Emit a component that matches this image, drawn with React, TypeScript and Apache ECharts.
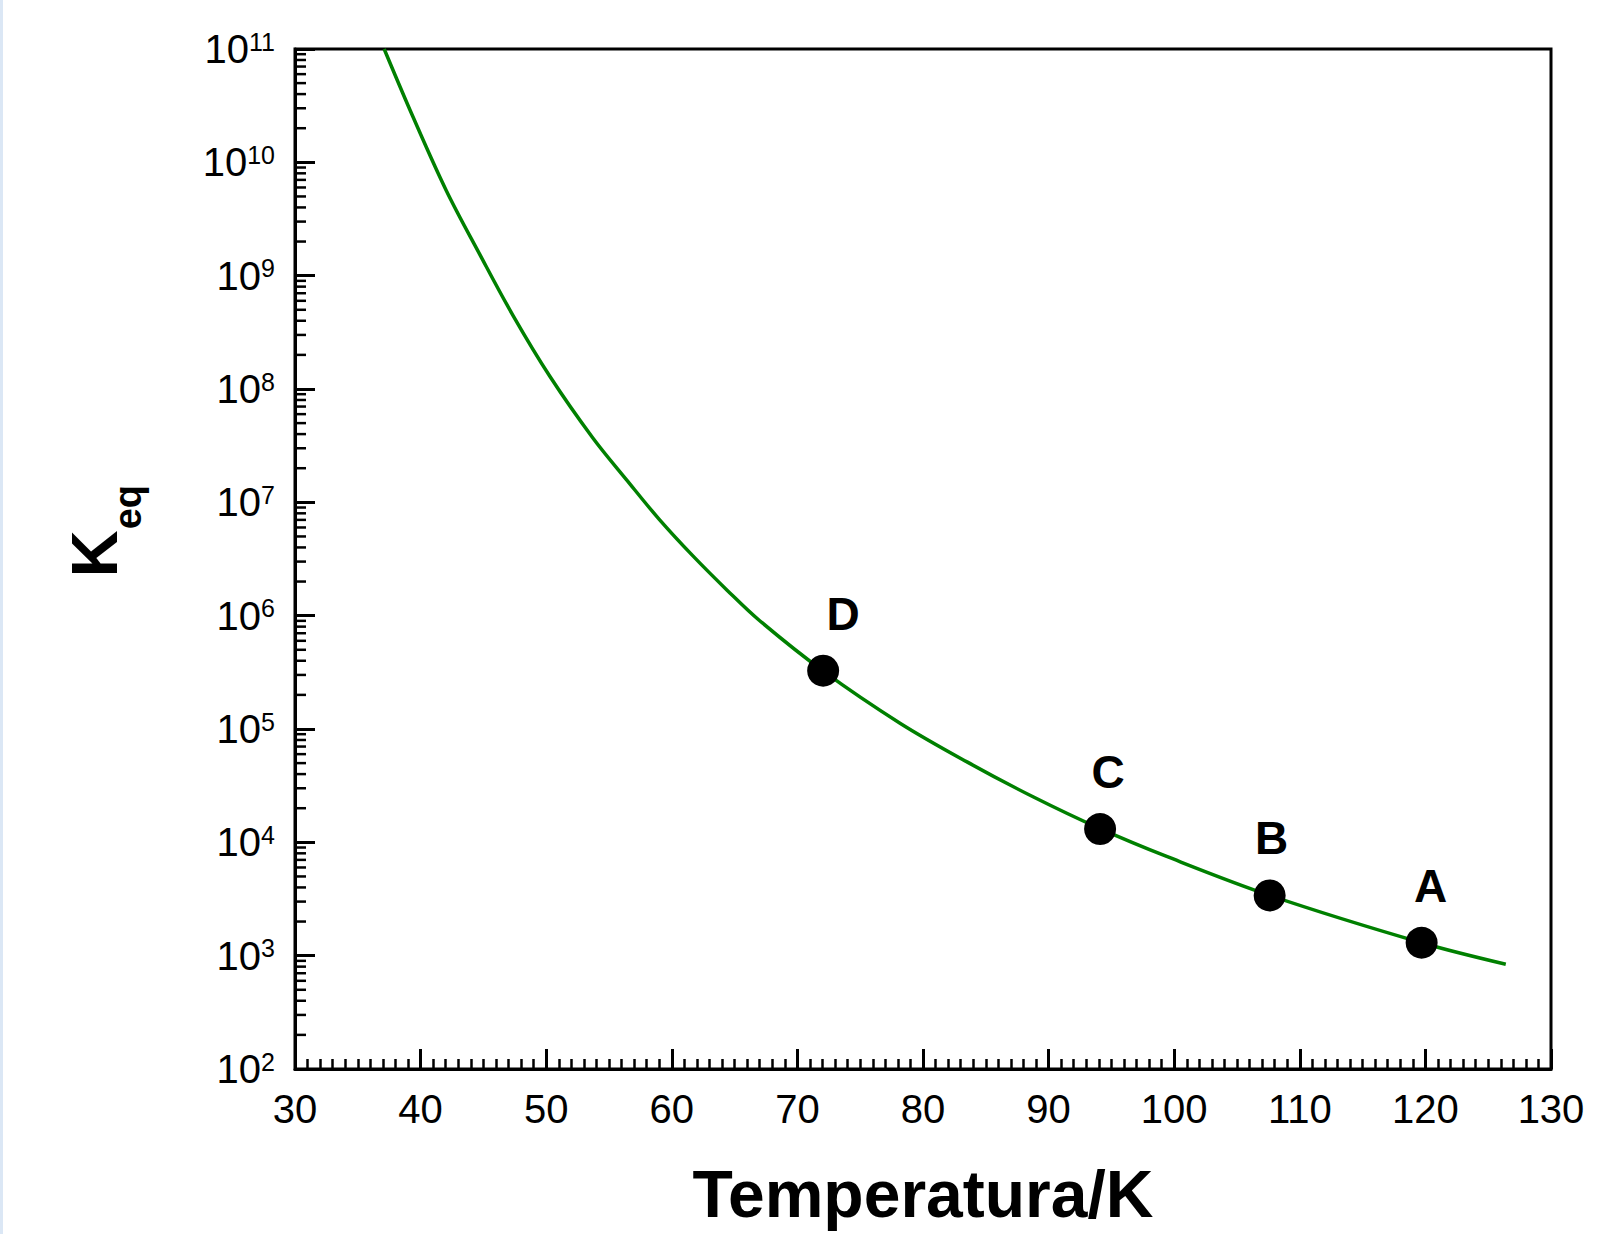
import React, { useEffect, useRef } from "react";
import * as echarts from "echarts";

// Curve: temperature (K) and Keq
const CURVE_T = [37.1, 39.4, 42.05, 44.7, 47.35, 50.3, 53.7, 56.4, 59.0, 61.7, 64.4, 67.0, 72.06, 78.2, 83.5, 88.8, 94.1, 99.4, 107.65, 119.7, 126.4];
const CURVE_K = [1.0e11, 2.51e10, 5.62e9, 1.55e9, 4.47e8, 1.29e8, 3.72e7, 1.58e7, 7.08e6, 3.35e6, 1.68e6, 9.02e5, 3.24e5, 1.12e5, 5.13e4, 2.51e4, 1.32e4, 7.5e3, 3.39e3, 1.3e3, 8.4e2];

// Labelled points
const POINT_NAMES = ["D", "C", "B", "A"];
const POINT_T = [72.05, 94.1, 107.6, 119.7];
const POINT_K = [3.27e5, 1.31e4, 3.4e3, 1.3e3];

// Axes
const X_MIN = 30;
const X_MAX = 130;
const X_INTERVAL = 10;
const Y_MIN = 1e2;
const Y_MAX = 1e11;
const Y_DECADES = [2, 3, 4, 5, 6, 7, 8, 9, 10];
const Y_MANTISSAS = [2, 3, 4, 5, 6, 7, 8, 9];

// label horizontal nudges (style)
const LABEL_DX = [20, 8, 2, 9];

const FONT = '"Liberation Sans", Arial, sans-serif';

export default function App() {
  const ref = useRef<HTMLDivElement>(null);

  useEffect(() => {
    if (!ref.current) return;
    const chart = echarts.init(ref.current, undefined, { renderer: "svg" });

    const curveData = CURVE_T.map((t, i) => [t, CURVE_K[i]]);
    const pointData = POINT_T.map((t, i) => ({
      value: [t, POINT_K[i]],
      name: POINT_NAMES[i],
      label: { offset: [LABEL_DX[i], 0] },
    }));
    const minorData: number[][] = [];
    Y_DECADES.forEach((d) => {
      Y_MANTISSAS.forEach((m) => {
        minorData.push([X_MIN, m * Math.pow(10, d)]);
      });
    });

    chart.setOption({
      animation: false,
      grid: {
        left: 295,
        right: 56,
        top: 49,
        bottom: 165,
        show: true,
        borderColor: "#000",
        borderWidth: 3,
        backgroundColor: "transparent",
      },
      xAxis: {
        type: "value",
        min: X_MIN,
        max: X_MAX,
        interval: X_INTERVAL,
        name: "Temperatura/K",
        nameLocation: "middle",
        nameGap: 92,
        nameTextStyle: {
          fontFamily: FONT,
          fontWeight: "bold",
          fontSize: 66,
          lineHeight: 66,
          color: "#000",
        },
        axisLine: { show: true, onZero: false, lineStyle: { color: "#000", width: 3 } },
        axisTick: { show: true, inside: true, length: 20, lineStyle: { color: "#000", width: 3 } },
        minorTick: { show: true, splitNumber: 10, length: 10, lineStyle: { color: "#000", width: 2.5 } },
        splitLine: { show: false },
        axisLabel: {
          margin: 20,
          fontFamily: FONT,
          fontSize: 40,
          lineHeight: 40,
          color: "#000",
        },
      },
      yAxis: {
        type: "log",
        logBase: 10,
        min: Y_MIN,
        max: Y_MAX,
        interval: 1,
        axisLine: { show: true, onZero: false, lineStyle: { color: "#000", width: 3 } },
        axisTick: { show: true, inside: true, length: 20, lineStyle: { color: "#000", width: 3 } },
        minorTick: { show: false },
        splitLine: { show: false },
        axisLabel: {
          margin: 20,
          formatter: (v: number) => `{b|10}{s|${Math.round(Math.log10(v))}}`,
          rich: {
            b: { fontFamily: FONT, fontSize: 40, lineHeight: 40, color: "#000" },
            s: { fontFamily: FONT, fontSize: 25, lineHeight: 25, color: "#000", verticalAlign: "top" },
          },
        },
      },
      graphic: [
        {
          type: "rect",
          shape: { x: 0, y: 0, width: 3, height: 1234 },
          style: { fill: "#dbe7f5" },
          silent: true,
        },
        {
          type: "group",
          x: 117.3,
          y: 573.3,
          rotation: Math.PI / 2,
          children: [
            {
              type: "text",
              x: -4,
              y: -23.3,
              style: {
                text: "K",
                fontFamily: FONT,
                fontWeight: "bold",
                fontSize: 65,
                fill: "#000",
                align: "left",
                verticalAlign: "middle",
              },
            },
            {
              type: "text",
              x: 44,
              y: 11,
              style: {
                text: "eq",
                fontFamily: FONT,
                fontWeight: "bold",
                fontSize: 38,
                fill: "#000",
                align: "left",
                verticalAlign: "middle",
              },
            },
          ],
        },
      ],
      series: [
        {
          type: "custom",
          silent: true,
          clip: false,
          z: 5,
          data: minorData,
          renderItem: (_params: any, api: any) => {
            const p = api.coord([api.value(0), api.value(1)]);
            return {
              type: "line",
              shape: { x1: p[0], y1: p[1], x2: p[0] + 11, y2: p[1] },
              style: { stroke: "#000", lineWidth: 2.5 },
            };
          },
        },
        {
          type: "line",
          data: curveData,
          smooth: 0.35,
          showSymbol: false,
          clip: true,
          silent: true,
          z: 2,
          lineStyle: { color: "#008000", width: 3.5 },
        },
        {
          type: "scatter",
          data: pointData,
          symbol: "circle",
          symbolSize: 32,
          z: 3,
          itemStyle: { color: "#000", opacity: 1 },
          emphasis: { disabled: true },
          label: {
            show: true,
            position: "top",
            distance: 18,
            formatter: "{b}",
            fontFamily: FONT,
            fontWeight: "bold",
            fontSize: 46,
            lineHeight: 46,
            color: "#000",
            opacity: 1,
          },
        },
      ],
    });

    return () => chart.dispose();
  }, []);

  return (
    <div
      ref={ref}
      style={{ position: "fixed", left: 0, top: 0, width: 1607, height: 1234, background: "#fff" }}
    />
  );
}
